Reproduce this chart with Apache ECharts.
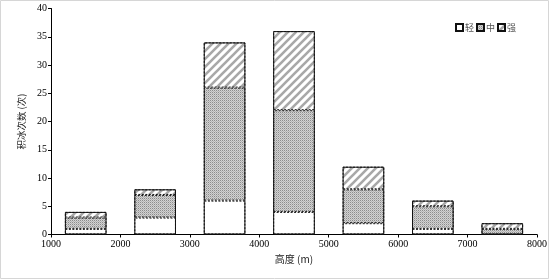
<!DOCTYPE html>
<html><head><meta charset="utf-8">
<script src="https://cdn.jsdelivr.net/npm/echarts@6/dist/echarts.min.js"></script>
<style>html,body{margin:0;padding:0;background:#fff;}#c{width:551px;height:280px;}</style>
</head><body><div id="c"></div>
<script>
// Data
var heights = ['1500', '2500', '3500', '4500', '5500', '6500', '7500'];
var light = [1, 3, 6, 4, 2, 1, 0];
var medium = [2, 4, 20, 18, 6, 4, 1];
var strong = [1, 1, 8, 14, 4, 1, 1];
var seriesNames = ['轻', '中', '强'];
var xTicks = [1000, 2000, 3000, 4000, 5000, 6000, 7000, 8000];
var yTicks = [0, 5, 10, 15, 20, 25, 30, 35, 40];

function makeDots() {
  var c = document.createElement('canvas'); c.width = 2; c.height = 2;
  var g = c.getContext('2d');
  g.fillStyle = '#d2d2d2'; g.fillRect(0, 0, 2, 2);
  g.fillStyle = '#8c8c8c'; g.fillRect(0, 0, 1, 1);
  g.fillStyle = '#b4b4b4'; g.fillRect(1, 1, 1, 1);
  return c;
}
function makeHatch() {
  var c = document.createElement('canvas'); c.width = 8; c.height = 8;
  var g = c.getContext('2d');
  g.fillStyle = '#ffffff'; g.fillRect(0, 0, 8, 8);
  g.strokeStyle = '#a8a8a8'; g.lineWidth = 2.6;
  g.beginPath();
  g.moveTo(-2, 10); g.lineTo(10, -2);
  g.moveTo(-6, 6); g.lineTo(6, -6);
  g.moveTo(2, 14); g.lineTo(14, 2);
  g.stroke();
  return c;
}
var dotPat = { image: makeDots(), repeat: 'repeat' };
var hatchPat = { image: makeHatch(), repeat: 'repeat' };

var totals = heights.map(function (h, i) { return light[i] + medium[i] + strong[i]; });

var serif = '"Liberation Serif", "Noto Sans CJK SC", serif';
var cjk = '"Noto Sans CJK SC", "Liberation Serif", serif';
var segStyle = function (color) {
  return { color: color, borderColor: '#111', borderWidth: 1, borderType: [2, 1.5] };
};

var chart = echarts.init(document.getElementById('c'), null, { renderer: 'canvas' });
chart.setOption({
  animation: false,
  graphic: [{ type: 'rect', shape: { x: 0.5, y: 0.5, width: 548, height: 278 }, style: { fill: 'none', stroke: '#d6d6d6', lineWidth: 1 }, silent: true, z: 100 }],
  grid: { left: 51, right: 14, top: 8.5, bottom: 45.5 },
  legend: {
    data: seriesNames, right: 30, top: 18, itemWidth: 7, itemHeight: 7, itemGap: 2,
    textStyle: { fontFamily: cjk, fontSize: 9, color: '#555', padding: [0, 0, 0, -3] },
    icon: 'rect'
  },
  xAxis: [{
    type: 'value', min: xTicks[0], max: xTicks[xTicks.length - 1], interval: 1000,
    name: '高度 (m)', nameLocation: 'middle', nameGap: 19,
    nameTextStyle: { fontFamily: cjk, fontSize: 10, color: '#222' },
    axisLine: { show: true, lineStyle: { color: '#000', width: 1 } },
    axisTick: { show: true, length: 3, lineStyle: { color: '#000' } },
    axisLabel: { fontFamily: serif, fontSize: 10, color: '#000', margin: 5, formatter: function (v) { return String(v); } },
    splitLine: { show: false }
  }, {
    type: 'category', data: heights, boundaryGap: true, position: 'bottom', show: false
  }],
  yAxis: {
    type: 'value', min: yTicks[0], max: yTicks[yTicks.length - 1], interval: 5,
    name: '积冰次数 (次)', nameLocation: 'middle', nameGap: 25, nameRotate: 90,
    nameTextStyle: { fontFamily: cjk, fontSize: 9.5, color: '#222' },
    axisLine: { show: true, lineStyle: { color: '#000', width: 1 } },
    axisTick: { show: true, length: 3, lineStyle: { color: '#000' } },
    axisLabel: { fontFamily: serif, fontSize: 10, color: '#000', margin: 4 },
    splitLine: { show: false }
  },
  series: [
    { name: seriesNames[0], type: 'bar', xAxisIndex: 1, stack: 'a', barWidth: '60%', barGap: '-100%', data: light, itemStyle: segStyle('#ffffff') },
    { name: seriesNames[1], type: 'bar', xAxisIndex: 1, stack: 'a', barWidth: '60%', data: medium, itemStyle: segStyle(dotPat) },
    { name: seriesNames[2], type: 'bar', xAxisIndex: 1, stack: 'a', barWidth: '60%', data: strong, itemStyle: segStyle(hatchPat) },
    { name: 'outline', type: 'bar', xAxisIndex: 1, barWidth: '60%', barGap: '-100%', data: totals, z: 5, silent: true,
      itemStyle: { color: 'rgba(0,0,0,0)', borderColor: '#111', borderWidth: 1 } }
  ]
});
</script></body></html>
